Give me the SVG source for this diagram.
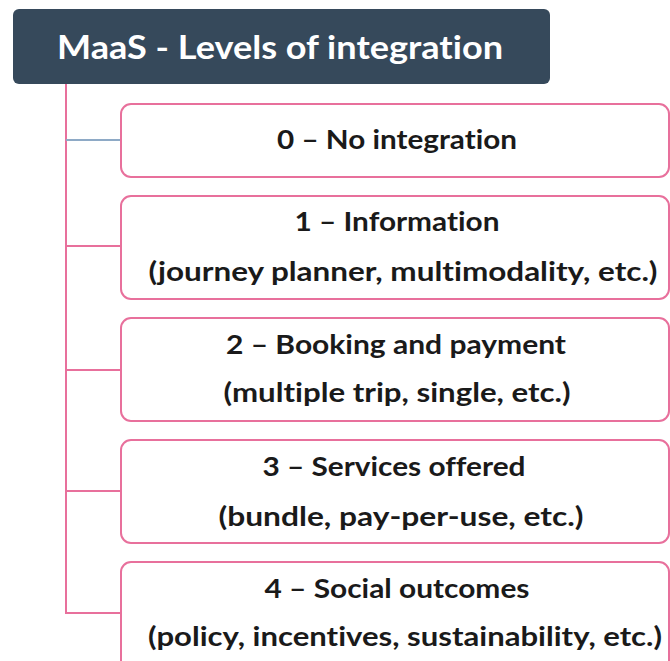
<svg xmlns="http://www.w3.org/2000/svg" width="670" height="661" viewBox="0 0 670 661">
<style>
.box{fill:#ffffff;stroke:#e8709c;stroke-width:2}
.con{fill:none;stroke:#e8709c;stroke-width:2}
.t{font-family:Lato,"Open Sans","Liberation Sans",sans-serif;font-weight:700;font-size:26px;fill:#1a1a1a;text-anchor:middle;font-variant-ligatures:none;font-feature-settings:"liga" 0}
.title{font-family:Lato,"Open Sans","Liberation Sans",sans-serif;font-weight:700;font-size:33px;fill:#ffffff;text-anchor:middle;font-variant-ligatures:none;font-feature-settings:"liga" 0}
</style>
<rect width="670" height="661" fill="#ffffff"/>
<g id="connectors">
<line class="con" x1="66" y1="84" x2="66" y2="614"/>
<line x1="66" y1="140" x2="121" y2="140" stroke="#8eaac6" stroke-width="2"/>
<line class="con" x1="66" y1="246" x2="121" y2="246"/>
<line class="con" x1="66" y1="370" x2="121" y2="370"/>
<line class="con" x1="66" y1="491" x2="121" y2="491"/>
<line class="con" x1="66" y1="613" x2="121" y2="613"/>
</g>
<g id="title">
<rect x="13" y="9" width="537" height="75" rx="6" fill="#36495b"/>
<text class="title" x="280" y="59" textLength="446" lengthAdjust="spacingAndGlyphs">MaaS - Levels of integration</text>
</g>
<g id="level0">
<rect class="box" x="121" y="104" width="548" height="73" rx="10"/>
<text class="t" x="397" y="149" textLength="240" lengthAdjust="spacingAndGlyphs">0 – No integration</text>
</g>
<g id="level1">
<rect class="box" x="121" y="196" width="548" height="103" rx="10"/>
<text class="t" x="397" y="231" textLength="205" lengthAdjust="spacingAndGlyphs">1 – Information</text>
<text class="t" x="403" y="281" textLength="509" lengthAdjust="spacingAndGlyphs">(journey planner, multimodality, etc.)</text>
</g>
<g id="level2">
<rect class="box" x="121" y="318" width="548" height="103" rx="10"/>
<text class="t" x="396" y="354" textLength="340" lengthAdjust="spacingAndGlyphs">2 – Booking and payment</text>
<text class="t" x="397" y="402" textLength="347" lengthAdjust="spacingAndGlyphs">(multiple trip, single, etc.)</text>
</g>
<g id="level3">
<rect class="box" x="121" y="440" width="548" height="103" rx="10"/>
<text class="t" x="394" y="476" textLength="263" lengthAdjust="spacingAndGlyphs">3 – Services offered</text>
<text class="t" x="401" y="526" textLength="365" lengthAdjust="spacingAndGlyphs">(bundle, pay-per-use, etc.)</text>
</g>
<g id="level4">
<rect class="box" x="121" y="562" width="548" height="120" rx="10"/>
<text class="t" x="397" y="598" textLength="265" lengthAdjust="spacingAndGlyphs">4 – Social outcomes</text>
<text class="t" x="405" y="646" textLength="514" lengthAdjust="spacingAndGlyphs">(policy, incentives, sustainability, etc.)</text>
</g>
</svg>
